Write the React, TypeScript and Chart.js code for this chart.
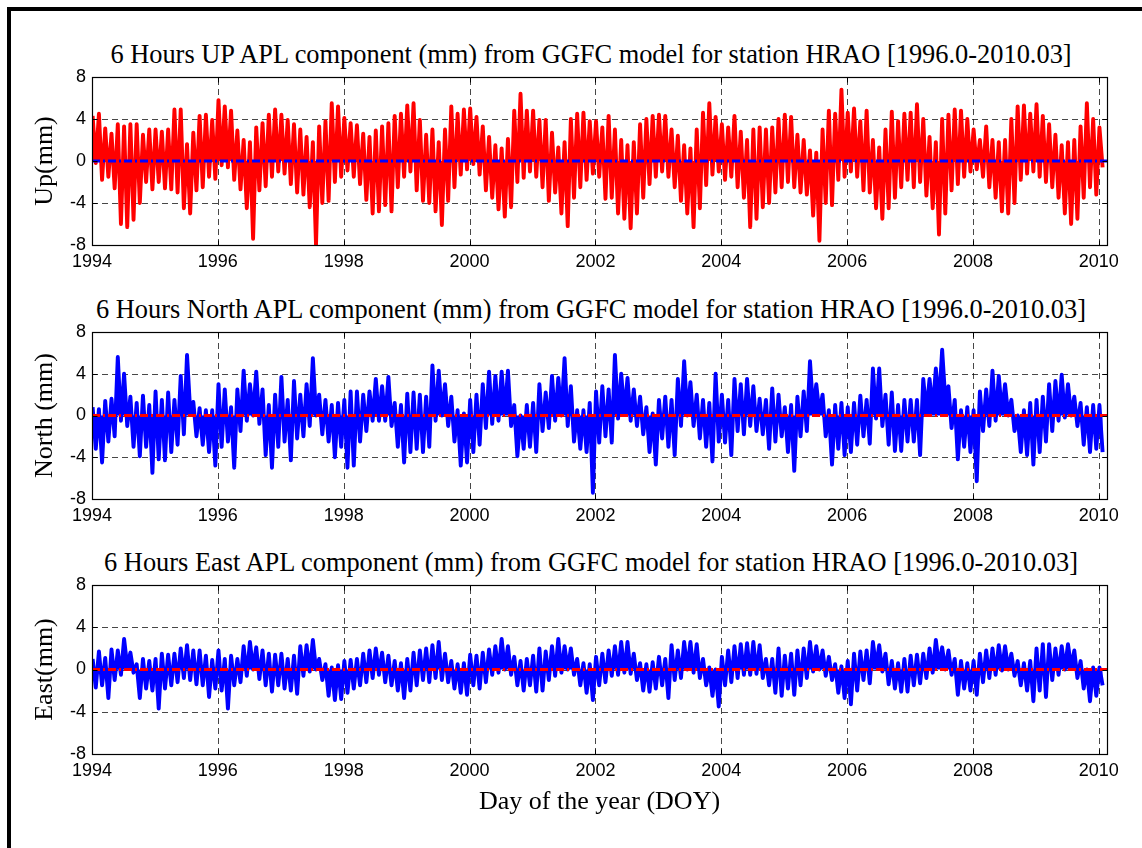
import React, { useEffect, useRef } from "react";
import { Chart, registerables } from "chart.js";

Chart.register(...registerables);

// ---- axis definitions ----
const xTicks = [1994, 1996, 1998, 2000, 2002, 2004, 2006, 2008, 2010];
const yTicks = [-8, -4, 0, 4, 8];
const xMin = 1994;
const xMax = 2010.13;
const yMin = -8;
const yMax = 8;

// samples: one bin every 0.1 year starting 1994.0 (highest / lowest value in each bin)
const startYear = 1994;
const binStep = 0.1;

// ---- UP component (mm) ----
const upHi = [
  4.3, 4.5, 3.1, 2.6, 3.5, 3.3, 3.5, 3.5, 2.5, 3.0,
  3.0, 2.8, 3.0, 4.9, 4.9, 1.6, 2.7, 4.3, 4.4, 3.9,
  5.8, 5.2, 4.8, 2.9, 2.0, 1.8, 3.2, 3.6, 4.4, 4.9,
  4.4, 3.9, 3.5, 3.0, 2.3, 1.8, 3.3, 3.8, 5.5, 5.2,
  4.1, 3.6, 3.4, 2.6, 2.3, 2.9, 3.3, 3.6, 4.3, 4.5,
  5.3, 5.5, 3.9, 2.5, 3.0, 1.8, 3.0, 5.2, 4.5, 4.9,
  5.0, 4.2, 3.3, 2.3, 1.5, 1.2, 2.1, 4.8, 6.4, 4.8,
  4.8, 3.9, 3.9, 2.7, 1.3, 1.8, 4.0, 4.5, 4.6, 3.8,
  3.8, 3.2, 4.3, 3.0, 2.0, 1.5, 1.8, 3.5, 4.0, 4.3,
  4.4, 4.3, 3.0, 2.4, 1.5, 1.2, 3.0, 4.6, 5.5, 4.2,
  3.5, 3.2, 4.3, 2.8, 2.0, 3.0, 3.2, 3.0, 3.2, 4.0,
  4.4, 4.2, 2.5, 2.0, 1.0, 0.8, 3.0, 4.8, 4.5, 6.8,
  4.6, 5.0, 3.8, 4.8, 2.0, 1.3, 3.0, 4.7, 3.8, 4.5,
  4.6, 5.4, 4.0, 2.3, 1.8, 4.0, 4.4, 4.9, 4.8, 4.0,
  3.0, 2.0, 3.3, 2.0, 1.8, 2.0, 4.0, 5.2, 5.3, 4.5,
  5.4, 4.3, 3.5, 2.5, 1.5, 1.8, 2.0, 3.3, 5.5, 4.0,
  3.2,
];
const upLo = [
  -0.2, -1.8, -1.5, -2.6, -6.0, -6.3, -5.6, -4.0, -2.0, -2.7,
  -2.0, -2.6, -2.7, -3.0, -4.5, -5.0, -2.8, -2.5, -1.5, -1.7,
  -0.4, -0.6, -1.8, -2.7, -4.5, -7.4, -2.8, -2.4, -1.5, -1.0,
  -1.2, -2.2, -3.0, -3.2, -4.4, -8.0, -4.0, -3.8, -2.0, -1.5,
  -0.9, -1.5, -2.2, -3.7, -5.0, -4.8, -4.2, -4.8, -2.5, -1.5,
  -1.0, -2.8, -3.8, -4.0, -4.8, -6.1, -3.8, -2.5, -1.3, -0.8,
  -0.3, -1.3, -2.8, -3.5, -4.6, -5.3, -4.4, -2.0, -1.6, -1.0,
  -1.5, -2.5, -3.8, -3.0, -5.0, -6.2, -3.5, -2.5, -1.8, -1.2,
  -1.5, -3.6, -3.5, -5.0, -5.5, -6.4, -5.0, -3.5, -2.2, -1.5,
  -1.0, -1.5, -2.5, -3.8, -5.0, -6.3, -4.5, -2.3, -1.3, -1.0,
  -1.8, -1.5, -2.5, -3.5, -6.3, -5.5, -4.4, -4.0, -3.0, -2.5,
  -2.0, -2.5, -3.0, -3.2, -5.2, -7.6, -4.0, -4.2, -1.8, -1.5,
  -1.0, -1.5, -2.8, -3.0, -4.5, -5.5, -4.5, -3.5, -2.5, -1.8,
  -2.5, -2.0, -3.3, -4.5, -7.0, -5.0, -2.8, -2.2, -1.5, -1.0,
  -0.8, -1.5, -2.5, -3.5, -4.8, -5.0, -4.0, -1.8, -1.2, -1.0,
  -1.5, -2.0, -2.5, -3.5, -5.0, -6.0, -5.5, -3.5, -2.5, -3.2,
  -0.6,
];

// ---- NORTH component (mm) ----
const northHi = [
  0.8, 0.6, 1.4, 1.6, 5.6, 4.0, 1.8, 1.2, 1.9, 1.0,
  2.3, 1.5, 2.2, 1.5, 3.8, 5.8, 1.3, 0.7, 0.5, 0.5,
  3.0, 2.5, 0.8, 2.5, 4.3, 3.0, 4.2, 2.5, 1.0, 2.0,
  3.7, 1.5, 3.3, 2.0, 3.0, 5.5, 2.0, 1.5, 1.0, 1.2,
  1.5, 2.3, 2.3, 2.0, 2.3, 3.5, 2.8, 3.7, 1.2, 1.0,
  2.1, 2.2, 2.0, 1.8, 4.8, 4.3, 3.0, 1.8, 0.5, 0.2,
  1.5, 2.0, 3.0, 4.2, 3.8, 4.2, 4.3, 1.0, 0.0, 1.0,
  1.2, 3.0, 2.2, 3.8, 3.6, 5.5, 2.8, 0.5, 0.5, 1.2,
  2.3, 2.8, 2.5, 5.8, 4.0, 3.6, 2.5, 1.8, 0.8, 0.2,
  1.5, 1.8, 1.5, 3.5, 5.2, 3.2, 2.0, 1.5, 1.2, 4.0,
  2.0, 1.5, 3.5, 3.0, 3.5, 2.8, 1.6, 1.5, 2.6, 2.0,
  0.8, 1.0, 1.8, 2.3, 5.2, 3.0, 2.0, 0.5, 1.0, 1.2,
  0.8, 1.2, 1.9, 1.5, 4.5, 4.5, 2.0, 2.2, 1.0, 1.5,
  1.5, 1.5, 3.5, 3.5, 4.5, 6.3, 2.8, 1.5, 0.5, 0.8,
  0.5, 2.3, 2.5, 4.3, 3.8, 3.0, 1.5, 0.0, 0.5, 1.2,
  1.5, 1.8, 3.0, 3.3, 3.9, 3.0, 1.8, 1.2, 0.8, 1.0,
  1.0,
];
const northLo = [
  -3.2, -4.5, -2.5, -2.0, -0.5, -1.0, -3.0, -3.9, -3.0, -5.5,
  -4.2, -4.3, -3.5, -2.8, -1.8, 0.5, -2.0, -2.8, -3.5, -4.8,
  -3.0, -2.5, -5.0, -1.5, -0.5, 0.0, -0.8, -3.8, -5.0, -3.0,
  -2.5, -4.3, -2.2, -2.0, -1.0, 0.0, -1.8, -2.5, -4.0, -3.0,
  -5.0, -4.8, -2.5, -1.5, -0.5, -0.5, -0.5, -1.0, -3.0, -4.5,
  -3.5, -3.2, -3.5, -3.0, -0.5, 0.0, -1.0, -2.5, -4.8, -4.5,
  -3.5, -2.8, -1.2, -0.8, -0.5, 0.2, -1.0, -3.9, -3.2, -3.0,
  -3.5, -1.5, -1.2, -0.5, 0.0, -1.0, -2.5, -3.2, -3.5, -7.4,
  -2.6, -2.0, -2.6, -0.3, 0.2, -0.5, -1.0, -1.8, -3.5, -4.7,
  -2.2, -3.0, -3.8, -1.0, 0.0, -1.0, -2.2, -3.0, -4.4, -2.5,
  -2.6, -3.8, -1.5, -1.8, -1.0, -1.5, -1.8, -3.2, -2.5, -2.0,
  -3.5, -5.3, -2.0, -1.5, 0.5, 0.2, -2.0, -4.7, -3.2, -3.8,
  -3.5, -2.8, -2.0, -2.7, -0.3, -1.0, -2.8, -3.4, -3.4, -2.5,
  -2.5, -3.8, 0.3, 0.5, 1.0, 1.5, -1.2, -4.2, -3.0, -3.5,
  -6.3, -1.5, -1.0, -0.5, 0.2, 0.0, -1.5, -3.5, -3.8, -4.7,
  -3.5, -2.5, -1.5, -0.5, -0.2, 0.0, -1.0, -2.8, -3.5, -3.2,
  -3.5,
];

// ---- EAST component (mm) ----
const eastHi = [
  1.0, 1.7, 1.1, 1.9, 1.8, 2.9, 1.6, 0.5, 1.0, 0.8,
  1.0, 1.5, 1.4, 1.5, 2.0, 2.3, 1.8, 1.8, 1.3, 0.9,
  1.8, 1.0, 1.3, 1.0, 2.2, 2.6, 2.1, 1.8, 1.5, 1.4,
  1.5, 1.0, 1.3, 2.2, 2.3, 2.8, 1.0, 0.5, 0.2, 0.4,
  0.8, 0.9, 1.0, 1.5, 1.8, 2.0, 1.6, 1.3, 0.8, 0.6,
  1.0, 1.6, 1.8, 2.0, 2.3, 2.6, 1.5, 0.8, 0.5, 0.6,
  1.4, 1.3, 1.6, 1.9, 2.2, 2.9, 2.2, 1.2, 0.8, 1.0,
  1.3, 2.0, 1.7, 2.2, 2.9, 2.2, 2.0, 1.0, 0.6, 0.5,
  1.2, 1.5, 1.8, 2.2, 2.6, 2.6, 1.5, 0.6, 0.5, 0.7,
  1.2, 1.0, 2.3, 1.8, 2.6, 2.6, 2.4, 1.0, 0.2, 0.0,
  1.2, 1.8, 2.2, 2.4, 2.5, 2.6, 2.3, 1.0, 1.0, 2.0,
  1.3, 1.5, 1.8, 2.0, 2.6, 2.2, 1.8, 1.2, 0.5, 0.3,
  0.8, 1.5, 1.7, 1.8, 2.6, 2.3, 1.5, 0.8, 0.6, 1.0,
  1.3, 1.4, 1.5, 2.0, 2.8, 2.1, 1.8, 1.0, 0.8, 0.6,
  0.8, 1.5, 1.8, 2.0, 2.3, 2.2, 1.5, 0.8, 0.6, 0.8,
  2.0, 2.4, 2.4, 2.0, 2.2, 2.4, 1.8, 0.8, 0.0, 0.2,
  0.2,
];
const eastLo = [
  -1.7, -1.5, -2.7, -1.0, -0.5, 0.3, -0.3, -2.7, -1.8, -2.0,
  -3.7, -1.8, -1.5, -1.2, -0.8, -1.0, -1.4, -1.5, -2.6, -1.8,
  -2.0, -3.7, -1.5, -1.2, -0.6, 0.0, -0.9, -1.5, -2.1, -1.5,
  -1.8, -2.0, -2.3, -0.6, -0.2, 0.0, -1.0, -2.5, -2.9, -2.8,
  -2.2, -1.8, -1.5, -1.2, -0.8, -0.5, -1.2, -1.5, -2.0, -2.7,
  -2.0, -1.5, -1.0, -1.2, -0.8, -1.0, -1.2, -1.8, -2.2, -2.4,
  -1.5, -1.8, -1.2, -0.5, -0.3, 0.0, -0.5, -1.5, -2.0, -1.5,
  -2.1, -2.0, -1.0, -0.6, -0.3, 0.0, -0.5, -1.5, -2.2, -2.9,
  -1.5, -1.2, -0.6, -0.5, -0.3, -0.4, -1.0, -2.0, -2.1, -1.8,
  -1.5, -2.7, -1.0, -0.8, 0.0, -0.3, -0.8, -1.5, -2.5, -3.5,
  -1.5, -1.2, -0.8, -0.5, -0.5, -0.4, -0.8, -1.5, -2.2, -2.5,
  -1.8, -2.4, -1.5, -0.8, -0.2, 0.0, -0.6, -1.0, -2.2, -2.7,
  -3.3, -2.0, -1.0, -1.3, 0.2, -0.2, -1.4, -1.8, -2.1, -2.1,
  -1.5, -1.3, -0.8, -0.3, 0.3, 0.0, -0.5, -2.4, -1.8, -2.0,
  -2.4, -1.2, -0.8, -0.5, -0.1, 0.0, -0.6, -1.5, -2.0, -3.0,
  -2.0, -2.6, -1.0, -0.5, 0.0, 0.2, -0.8, -1.8, -3.0, -2.5,
  -1.5,
];

const titles = [
  "6 Hours UP APL component (mm) from GGFC model for station HRAO [1996.0-2010.03]",
  "6 Hours North APL component (mm) from GGFC model for station HRAO [1996.0-2010.03]",
  "6 Hours East APL component (mm) from GGFC model for station HRAO [1996.0-2010.03]",
];
const yLabels = ["Up(mm)", "North (mm)", "East(mm)"];
const xLabel = "Day of the year (DOY)";

const RED = "#ff0000";
const BLUE = "#0000ff";
const SANS = "'Liberation Sans', Arial, Helvetica, sans-serif";
const SERIF = "'Liberation Serif', 'Times New Roman', serif";

// the series alternates between each bin's highest and lowest value
function zigzag(hi: number[], lo: number[]) {
  const pts: { x: number; y: number }[] = [];
  for (let i = 0; i < hi.length; i++) {
    const t = startYear + i * binStep;
    pts.push({ x: t + 0.01, y: hi[i] });
    pts.push({ x: t + 0.06, y: lo[i] });
  }
  return pts;
}

const matlabAxes = {
  id: "matlabAxes",
  beforeDatasetsDraw(chart: any) {
    const { ctx, chartArea: a, scales } = chart;
    const xs = scales.x;
    const ys = scales.y;
    ctx.save();
    ctx.strokeStyle = "rgba(0,0,0,0.72)";
    ctx.lineWidth = 1;
    ctx.setLineDash([6, 4]);
    for (const v of xTicks) {
      const px = Math.round(xs.getPixelForValue(v)) + 0.5;
      if (px <= a.left + 1 || px >= a.right - 1) continue;
      ctx.beginPath();
      ctx.moveTo(px, a.bottom);
      ctx.lineTo(px, a.top);
      ctx.stroke();
    }
    for (const v of yTicks) {
      const py = Math.round(ys.getPixelForValue(v)) + 0.5;
      if (py <= a.top + 1 || py >= a.bottom - 1) continue;
      ctx.beginPath();
      ctx.moveTo(a.left, py);
      ctx.lineTo(a.right, py);
      ctx.stroke();
    }
    ctx.restore();
  },
  afterDatasetsDraw(chart: any) {
    const { ctx, chartArea: a, scales } = chart;
    const xs = scales.x;
    const ys = scales.y;
    const L = Math.round(a.left) + 0.5;
    const R = Math.round(a.right) + 0.5;
    const T = Math.round(a.top) + 0.5;
    const B = Math.round(a.bottom) + 0.5;
    ctx.save();
    ctx.setLineDash([]);
    ctx.strokeStyle = "#000";
    ctx.lineWidth = 1.2;
    ctx.strokeRect(L, T, R - L, B - T);
    const tl = 5;
    ctx.lineWidth = 1;
    ctx.beginPath();
    for (const v of xTicks) {
      const px = Math.round(xs.getPixelForValue(v)) + 0.5;
      ctx.moveTo(px, B);
      ctx.lineTo(px, B - tl);
      ctx.moveTo(px, T);
      ctx.lineTo(px, T + tl);
    }
    for (const v of yTicks) {
      const py = Math.round(ys.getPixelForValue(v)) + 0.5;
      ctx.moveTo(L, py);
      ctx.lineTo(L + tl, py);
      ctx.moveTo(R, py);
      ctx.lineTo(R - tl, py);
    }
    ctx.stroke();
    ctx.restore();
  },
};

type PanelProps = {
  top: number;
  height: number;
  xAxisHeight: number;
  hi: number[];
  lo: number[];
  color: string;
  zeroColor: string;
  yLabel: string;
  xTitle?: string;
};

function Panel(props: PanelProps) {
  const ref = useRef<HTMLCanvasElement | null>(null);
  useEffect(() => {
    if (!ref.current) return;
    const chart = new Chart(ref.current, {
      type: "line",
      data: {
        datasets: [
          {
            label: "zero",
            data: [
              { x: xMin, y: 0 },
              { x: xMax, y: 0 },
            ],
            borderColor: props.zeroColor,
            borderWidth: 3,
            borderDash: [8, 3, 2, 3],
            pointRadius: 0,
            fill: false,
            order: 0,
          },
          {
            label: "APL",
            data: zigzag(props.hi, props.lo),
            borderColor: props.color,
            backgroundColor: props.color,
            borderWidth: 3.9,
            borderJoinStyle: "round",
            pointRadius: 0,
            tension: 0,
            fill: "origin",
            order: 1,
          },
        ],
      },
      options: {
        responsive: false,
        animation: false,
        events: [],
        layout: { padding: { top: 20, right: 35, left: 0, bottom: 0 } },
        plugins: {
          legend: { display: false },
          tooltip: { enabled: false },
          title: { display: false },
        },
        scales: {
          x: {
            type: "linear",
            min: xMin,
            max: xMax,
            grid: { display: false, drawTicks: false },
            border: { display: false },
            afterBuildTicks: (s: any) => {
              s.ticks = xTicks.map((v) => ({ value: v }));
            },
            afterFit: (s: any) => {
              s.height = props.xAxisHeight;
            },
            ticks: {
              color: "#000",
              font: { family: SANS, size: 18 },
              padding: 6,
              maxRotation: 0,
              autoSkip: false,
              callback: (v: any) => String(v),
            },
            title: {
              display: !!props.xTitle,
              text: props.xTitle || "",
              color: "#000",
              font: { family: SERIF, size: 26 },
              padding: { top: 0, bottom: 6 },
            },
          },
          y: {
            type: "linear",
            min: yMin,
            max: yMax,
            grid: { display: false, drawTicks: false },
            border: { display: false },
            afterBuildTicks: (s: any) => {
              s.ticks = yTicks.map((v) => ({ value: v }));
            },
            afterFit: (s: any) => {
              s.width = 92;
            },
            ticks: {
              color: "#000",
              font: { family: SANS, size: 18 },
              padding: 6,
              callback: (v: any) => String(v),
            },
            title: {
              display: true,
              text: props.yLabel,
              color: "#000",
              font: { family: SERIF, size: 26 },
              padding: { top: 30, bottom: 0 },
            },
          },
        },
      } as any,
      plugins: [matlabAxes],
    });
    return () => chart.destroy();
  }, []);
  return (
    <canvas
      ref={ref}
      width={1142}
      height={props.height}
      style={{ position: "absolute", left: 0, top: props.top, width: 1142, height: props.height }}
    />
  );
}

const titleTops = [41, 296, 549];

export default function App() {
  return (
    <div
      style={{
        position: "absolute",
        left: 0,
        top: 0,
        width: 1142,
        height: 848,
        background: "#fff",
        overflow: "hidden",
      }}
    >
      <div style={{ position: "absolute", left: 7, top: 7, width: 4, height: 841, background: "#000" }} />
      <div style={{ position: "absolute", left: 7, top: 7, width: 1135, height: 4, background: "#000" }} />
      {titles.map((t, i) => (
        <div
          key={i}
          style={{
            position: "absolute",
            left: 0,
            top: titleTops[i],
            width: 1182,
            textAlign: "center",
            fontFamily: SERIF,
            fontSize: 26.4,
            lineHeight: "26px",
            whiteSpace: "nowrap",
            color: "#000",
          }}
        >
          {t}
        </div>
      ))}
      <Panel top={57} height={228} xAxisHeight={40} hi={upHi} lo={upLo} color={RED} zeroColor={BLUE} yLabel={yLabels[0]} />
      <Panel top={312} height={227} xAxisHeight={40} hi={northHi} lo={northLo} color={BLUE} zeroColor={RED} yLabel={yLabels[1]} />
      <Panel
        top={565}
        height={259}
        xAxisHeight={70}
        hi={eastHi}
        lo={eastLo}
        color={BLUE}
        zeroColor={RED}
        yLabel={yLabels[2]}
        xTitle={xLabel}
      />
    </div>
  );
}
